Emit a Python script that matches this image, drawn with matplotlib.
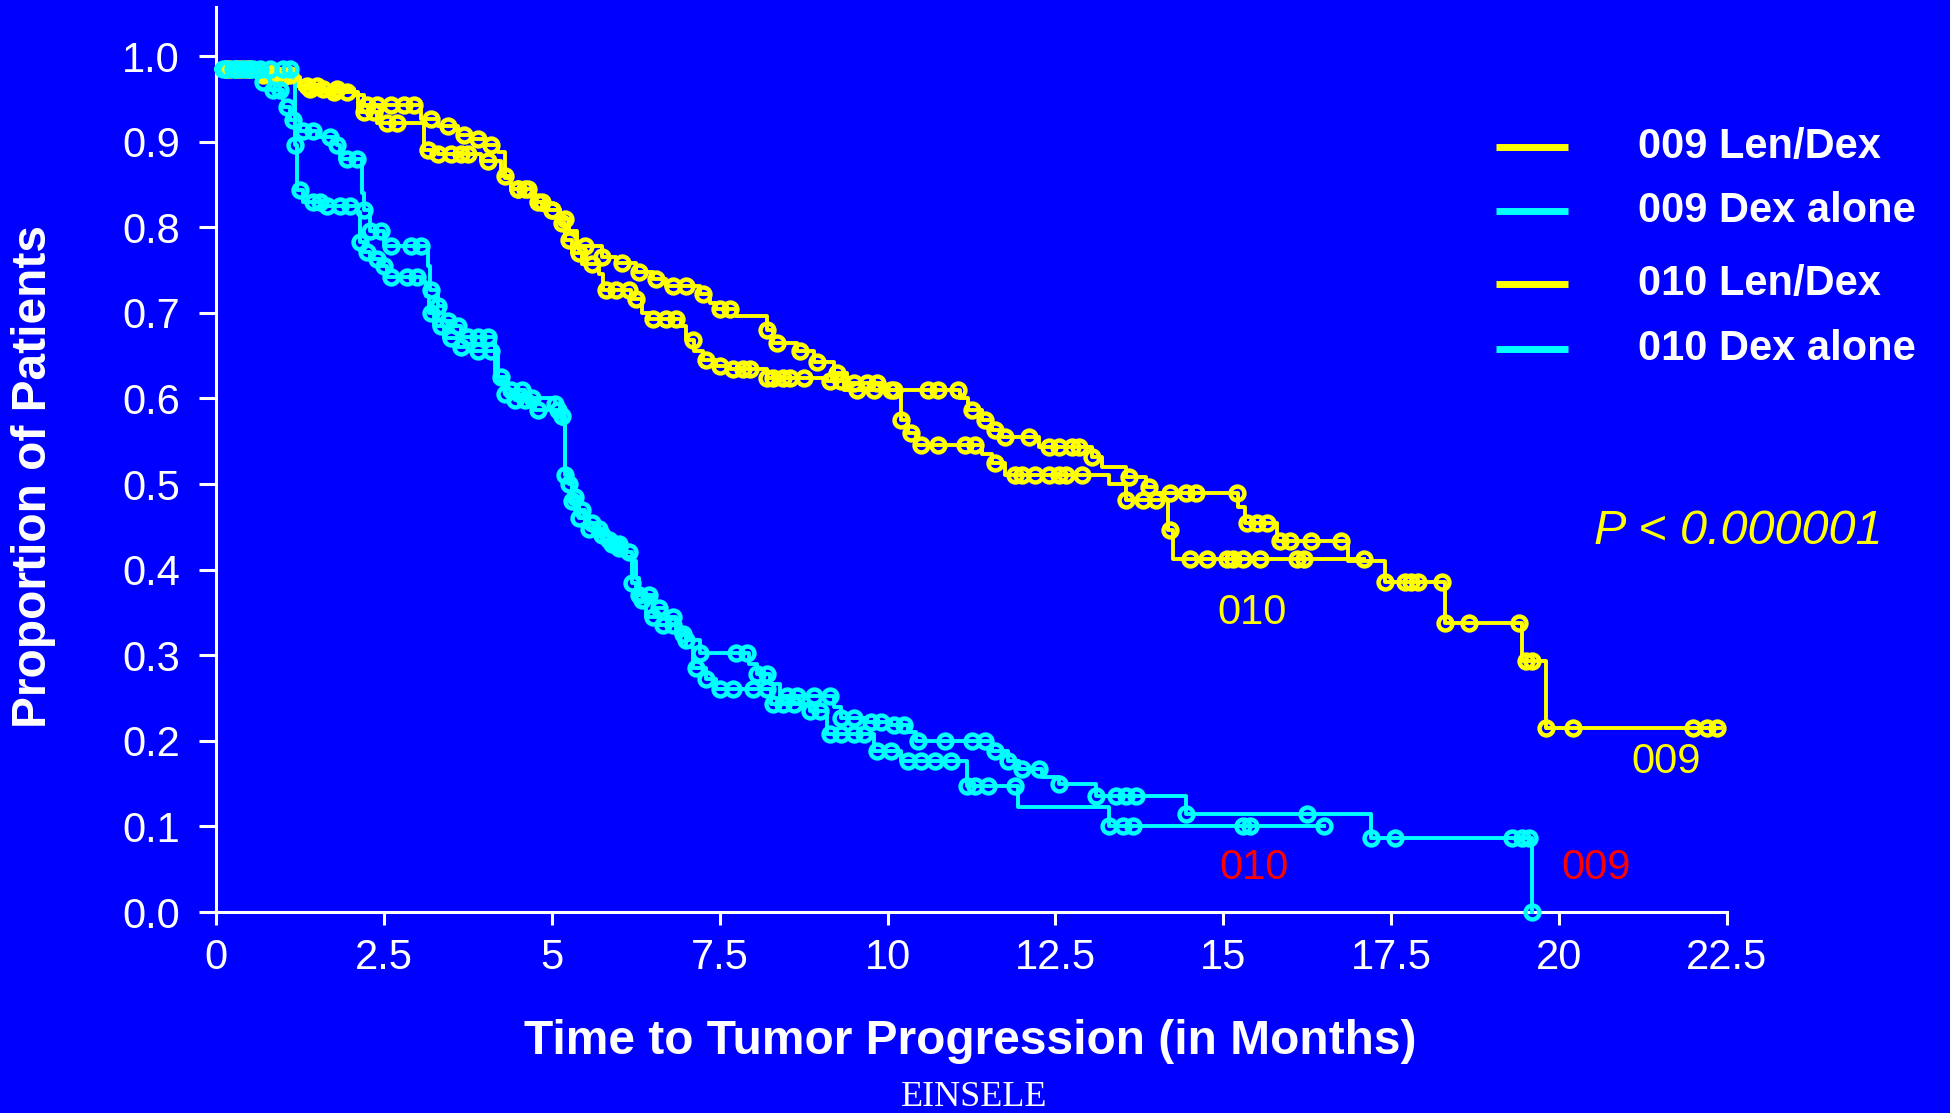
import numpy as np
import matplotlib
matplotlib.use('Agg')
import matplotlib.pyplot as plt
from matplotlib.lines import Line2D

BG = '#0000FF'
YELLOW = '#FFFF00'
CYAN = '#00FFFF'
RED = '#FF0000'

# 009 Len/Dex: step times, survival after each step, censored times
len009_t = [0, 0.55, 1.0, 1.25, 2.05, 2.2, 3.05, 3.3, 3.6, 3.8, 4.0, 4.2, 4.3, 4.4, 4.75, 4.9,
            5.12, 5.25, 5.38, 5.75, 5.95, 6.25, 6.5, 6.7, 7.2, 7.35, 7.45, 7.75, 8.2, 8.3, 8.65,
            8.9, 9.2, 9.4, 9.95, 11.08, 11.2, 11.4, 11.55, 11.7, 12.25, 13.05, 13.2, 13.55,
            13.85, 14.0, 15.22, 15.32, 15.8, 16.85, 17.4, 18.3, 19.45, 19.8, 22.4]
len009_s = [0.985, 0.98, 0.975, 0.962, 0.955, 0.943, 0.926, 0.918, 0.908, 0.903, 0.896, 0.888,
            0.858, 0.845, 0.83, 0.82, 0.81, 0.795, 0.778, 0.765, 0.758, 0.748, 0.74, 0.731,
            0.722, 0.712, 0.705, 0.696, 0.68, 0.665, 0.655, 0.642, 0.63, 0.618, 0.61, 0.6,
            0.587, 0.575, 0.563, 0.555, 0.543, 0.532, 0.52, 0.508, 0.496, 0.489, 0.473, 0.454,
            0.433, 0.41, 0.385, 0.338, 0.293, 0.215, 0.215]
len009_cens = [0.2, 0.35, 0.5, 0.7, 0.85, 1.0, 1.4, 1.6, 1.8, 2.25, 2.4, 2.6, 2.8, 2.95, 3.2,
               3.45, 3.7, 3.9, 4.1, 4.5, 4.65, 4.85, 5.0, 5.2, 5.5, 5.75, 6.05, 6.3, 6.55, 6.8,
               7.0, 7.25, 7.5, 7.65, 8.2, 8.35, 8.7, 8.95, 9.25, 9.5, 9.7, 9.85, 10.05, 10.6,
               10.75, 11.05, 11.25, 11.45, 11.6, 11.75, 12.1, 12.4, 12.55, 12.75, 12.85, 13.05,
               13.6, 13.9, 14.2, 14.45, 14.6, 15.2, 15.35, 15.5, 15.65, 15.85, 16.0, 16.3, 16.75,
               17.4, 17.7, 17.8, 17.9, 18.25, 18.3, 18.66, 19.4, 19.5, 19.6, 19.8, 20.2, 22.0,
               22.2, 22.35]

# 010 Len/Dex
len010_t = [0, 0.6, 1.2, 1.6, 2.12, 2.4, 3.1, 3.3, 3.95, 4.25, 4.4, 4.75, 4.85, 5.12, 5.2, 5.3,
            5.45, 5.7, 5.77, 6.18, 6.35, 6.45, 6.92, 7.0, 7.12, 7.25, 7.45, 7.65, 8.2, 9.1,
            9.35, 10.2, 10.3, 10.42, 11.4, 11.55, 11.75, 13.3, 13.55, 14.18, 14.25, 17.1]
len010_s = [0.985, 0.978, 0.965, 0.958, 0.935, 0.922, 0.89, 0.885, 0.877, 0.86, 0.845, 0.83,
            0.82, 0.805, 0.785, 0.77, 0.757, 0.745, 0.727, 0.716, 0.7, 0.693, 0.684, 0.668,
            0.655, 0.645, 0.638, 0.634, 0.624, 0.62, 0.61, 0.575, 0.56, 0.546, 0.535, 0.525,
            0.51, 0.5, 0.481, 0.446, 0.412, 0.412]
len010_cens = [0.15, 0.3, 0.45, 0.7, 0.9, 1.1, 1.35, 1.5, 1.75, 1.95, 2.2, 2.35, 2.55, 2.7,
               3.15, 3.3, 3.5, 3.65, 3.75, 4.05, 4.3, 4.5, 4.6, 4.8, 5.0, 5.15, 5.25, 5.4, 5.6,
               5.8, 5.95, 6.15, 6.25, 6.5, 6.7, 6.85, 7.1, 7.3, 7.5, 7.7, 7.85, 7.95, 8.2, 8.3,
               8.45, 8.55, 8.75, 9.15, 9.3, 9.55, 9.8, 10.1, 10.2, 10.35, 10.5, 10.75, 11.15,
               11.3, 11.6, 11.9, 12.0, 12.2, 12.4, 12.55, 12.65, 12.9, 13.55, 13.8, 14.0, 14.2,
               14.5, 14.75, 15.05, 15.15, 15.3, 15.55, 16.1, 16.2, 17.1]

# 009 Dex alone
dex009_t = [0, 0.7, 0.8, 1.0, 1.1, 1.25, 1.5, 1.8, 1.85, 2.17, 2.2, 2.3, 2.5, 3.15, 3.18, 3.3,
            3.4, 3.55, 3.65, 4.16, 4.2, 4.35, 4.6, 5.05, 5.12, 5.19, 5.25, 5.3, 5.4, 5.5, 5.7,
            5.85, 6.05, 6.2, 6.25, 6.3, 6.5, 6.7, 6.85, 7.0, 7.2, 7.93, 8.05, 8.25, 8.4, 9.2,
            9.3, 9.7, 10.05, 10.3, 10.43, 11.55, 11.8, 11.95, 12.3, 12.55, 13.1, 14.44, 17.2,
            19.6]
dex009_s = [0.985, 0.97, 0.96, 0.94, 0.925, 0.912, 0.905, 0.896, 0.88, 0.84, 0.82, 0.795,
            0.778, 0.755, 0.727, 0.708, 0.69, 0.684, 0.672, 0.649, 0.625, 0.61, 0.6, 0.593,
            0.579, 0.516, 0.5, 0.485, 0.47, 0.455, 0.44, 0.43, 0.42, 0.41, 0.39, 0.37, 0.355,
            0.345, 0.33, 0.318, 0.303, 0.29, 0.278, 0.266, 0.252, 0.24, 0.227, 0.222, 0.219,
            0.21, 0.2, 0.188, 0.176, 0.167, 0.158, 0.15, 0.135, 0.114, 0.087, 0.0]
dex009_cens = [0.1, 0.25, 0.4, 0.55, 0.7, 0.85, 0.95, 1.05, 1.15, 1.3, 1.45, 1.7, 1.8, 1.95,
               2.1, 2.2, 2.3, 2.45, 2.6, 2.9, 3.05, 3.2, 3.3, 3.45, 3.6, 3.75, 3.9, 4.05, 4.25,
               4.4, 4.55, 4.7, 5.05, 5.15, 5.25, 5.35, 5.45, 5.6, 5.75, 5.9, 6.0, 6.15, 6.3,
               6.45, 6.6, 6.8, 7.0, 7.2, 7.75, 7.9, 8.05, 8.2, 8.5, 8.65, 8.9, 9.15, 9.3, 9.5,
               9.75, 9.9, 10.1, 10.25, 10.45, 10.85, 11.25, 11.45, 11.6, 11.8, 12.0, 12.25,
               12.55, 13.1, 13.4, 13.55, 13.7, 14.44, 16.25, 17.2, 17.55, 19.3, 19.45, 19.55,
               19.6]

# 010 Dex alone
dex010_t = [0, 1.15, 1.17, 1.2, 1.3, 1.6, 2.1, 2.14, 2.2, 2.3, 2.45, 2.55, 3.05, 3.12, 3.17,
            3.25, 3.4, 3.6, 3.75, 4.16, 4.3, 4.45, 4.75, 5.15, 5.2, 5.3, 5.4, 5.55, 5.75, 5.9,
            6.1, 6.2, 6.25, 6.4, 6.6, 6.85, 7.0, 7.1, 7.3, 7.45, 8.27, 8.85, 9.1, 9.8, 10.2,
            11.18, 11.94, 13.3, 16.5]
dex010_s = [0.985, 0.97, 0.896, 0.843, 0.83, 0.825, 0.818, 0.783, 0.771, 0.763, 0.755, 0.742,
            0.736, 0.72, 0.7, 0.685, 0.67, 0.66, 0.655, 0.62, 0.605, 0.598, 0.587, 0.57, 0.51,
            0.48, 0.46, 0.448, 0.435, 0.425, 0.415, 0.384, 0.364, 0.345, 0.335, 0.325, 0.31,
            0.285, 0.272, 0.26, 0.243, 0.235, 0.208, 0.188, 0.176, 0.147, 0.123, 0.1, 0.1]
dex010_cens = [0.15, 0.3, 0.5, 0.65, 0.8, 1.0, 1.1, 1.17, 1.25, 1.45, 1.55, 1.65, 1.85, 2.0,
               2.15, 2.25, 2.4, 2.5, 2.6, 2.85, 3.0, 3.2, 3.35, 3.5, 3.65, 3.9, 4.1, 4.3, 4.45,
               4.6, 4.8, 5.1, 5.2, 5.3, 5.4, 5.55, 5.7, 5.85, 6.0, 6.2, 6.35, 6.5, 6.65, 6.8,
               6.95, 7.15, 7.3, 7.5, 7.7, 8.0, 8.2, 8.3, 8.45, 8.6, 8.85, 9.0, 9.15, 9.3, 9.5,
               9.65, 9.85, 10.05, 10.3, 10.5, 10.7, 10.95, 11.18, 11.3, 11.5, 11.9, 13.3, 13.5,
               13.65, 15.3, 15.4, 16.5]

legend_labels = ['009 Len/Dex', '009 Dex alone', '010 Len/Dex', '010 Dex alone']
legend_colors = [YELLOW, CYAN, YELLOW, CYAN]
xticks = [0, 2.5, 5, 7.5, 10, 12.5, 15, 17.5, 20, 22.5]
xtick_labels = ['0', '2.5', '5', '7.5', '10', '12.5', '15', '17.5', '20', '22.5']
yticks = np.round(np.arange(0, 1.01, 0.1), 1)

plt.rcParams['font.family'] = ['Liberation Sans', 'DejaVu Sans']

W, H = 1950, 1113
fig = plt.figure(figsize=(W / 100, H / 100), dpi=100, facecolor=BG)
ax = fig.add_axes([216 / W, 1 - 912 / H, (1727 - 216) / W, (912 - 7) / H])
ax.set_facecolor(BG)


def km_curve(ax, t, s, cens, color):
    t = np.asarray(t)
    s = np.asarray(s)
    ax.step(t, s, where='post', color=color, lw=2.8, zorder=3, clip_on=False)
    c = np.asarray(cens)
    idx = np.searchsorted(t, c, side='right') - 1
    ax.plot(c, s[idx], ls='none', marker='o', ms=10, mfc='none', mec=color, mew=3.2,
            zorder=4, clip_on=False)


km_curve(ax, len009_t, len009_s, len009_cens, YELLOW)
km_curve(ax, len010_t, len010_s, len010_cens, YELLOW)
km_curve(ax, dex009_t, dex009_s, dex009_cens, CYAN)
km_curve(ax, dex010_t, dex010_s, dex010_cens, CYAN)

ax.set_xlim(0, 22.5)
ax.set_ylim(0, (912 - 7) / 856)
ax.set_xticks(xticks)
ax.set_xticklabels(xtick_labels)
ax.set_yticks(yticks)
ax.set_yticklabels([f'{v:.1f}' for v in yticks])
for side in ['top', 'right']:
    ax.spines[side].set_visible(False)
for side in ['left', 'bottom']:
    ax.spines[side].set_color('white')
    ax.spines[side].set_linewidth(2.2)
ax.tick_params(axis='both', colors='white', labelsize=30, width=2.2)
ax.tick_params(axis='y', length=12, pad=14)
ax.tick_params(axis='x', length=9, pad=10)

# axis titles
fig.text(970 / W, 1 - 1042 / H, 'Time to Tumor Progression (in Months)', color='white',
         fontsize=34.5, fontweight='bold', ha='center', va='center')
fig.text(34 / W, 1 - 476 / H, 'Proportion of Patients', color='white', fontsize=34.5,
         fontweight='bold', ha='center', va='center', rotation=90)

# legend
legend_y = [147, 211, 284, 349]
for lab, col, y in zip(legend_labels, legend_colors, legend_y):
    fig.add_artist(Line2D([1496 / W, 1568 / W], [1 - y / H, 1 - y / H], color=col, lw=5,
                          solid_capstyle='butt', transform=fig.transFigure))
    fig.text(1638 / W, 1 - y / H, lab, color='white', fontsize=30, fontweight='bold',
             ha='left', va='center')

# annotations
fig.text(1738 / W, 1 - 532 / H, 'P < 0.000001', color=YELLOW, fontsize=35, style='italic',
         ha='center', va='center')
fig.text(1252 / W, 1 - 613 / H, '010', color=YELLOW, fontsize=30, ha='center', va='center')
fig.text(1666 / W, 1 - 762 / H, '009', color=YELLOW, fontsize=30, ha='center', va='center')
fig.text(1254 / W, 1 - 868 / H, '010', color=RED, fontsize=30, ha='center', va='center')
fig.text(1596 / W, 1 - 868 / H, '009', color=RED, fontsize=30, ha='center', va='center')
fig.text(974 / W, 1 - 1097 / H, 'EINSELE', color='white', fontsize=26,
         family=['Liberation Serif', 'DejaVu Serif'], ha='center', va='center')

fig.savefig('out.png', dpi=100, facecolor=BG)
